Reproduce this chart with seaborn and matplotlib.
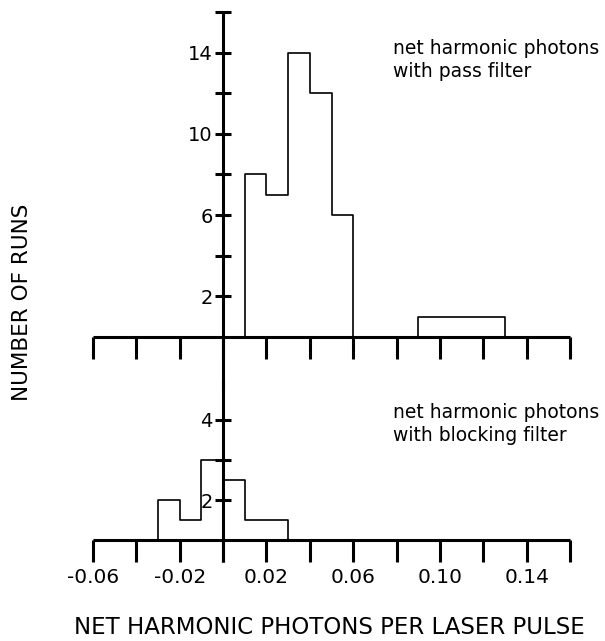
# coding: utf-8

# Net harmonic photons histogram (two panels)

import numpy as np
import seaborn as sns
import matplotlib
matplotlib.use("Agg")
import matplotlib.pyplot as plt


# Data
# bin edges and counts, pass filter (top panel)
passEdges = [0.00, 0.01, 0.02, 0.03, 0.04, 0.05, 0.06, 0.07,
             0.08, 0.09, 0.10, 0.11, 0.12, 0.13, 0.14]
passCounts = [0, 8, 7, 14, 12, 6, 0, 0, 0, 1, 1, 1, 1, 0]

# bin edges and counts, blocking filter (bottom panel)
blockEdges = [-0.04, -0.03, -0.02, -0.01, 0.00, 0.01, 0.02, 0.03, 0.04]
blockCounts = [0, 2, 1, 4, 3, 1, 1, 0]

# ticks
xTicks = [-0.06, -0.04, -0.02, 0.00, 0.02, 0.04, 0.06, 0.08, 0.10, 0.12, 0.14, 0.16]
xTickLabels = ['-0.06', '', '-0.02', '', '0.02', '', '0.06', '', '0.10', '', '0.14', '']
topYTicks = [2, 4, 6, 8, 10, 12, 14, 16]
topYLabels = ['2', '', '6', '', '10', '', '14', '']
botYTicks = [2, 4, 6]
botYLabels = ['2', '', '4']

xLabel = 'NET HARMONIC PHOTONS PER LASER PULSE'
yLabel = 'NUMBER OF RUNS'
passText = 'net harmonic photons\nwith pass filter'
blockText = 'net harmonic photons\nwith blocking filter'


# Style
sns.set_style('white')
plt.rcParams['font.family'] = ['DejaVu Sans']
plt.rcParams['text.color'] = 'black'
plt.rcParams['xtick.color'] = 'black'
plt.rcParams['ytick.color'] = 'black'
axisWidth = 2.2
histWidth = 1.2
tickFont = 14


def centers(edges):
    e = np.array(edges)
    return (e[:-1] + e[1:]) / 2


def styleAxis(ax):
    ax.spines['left'].set_position(('data', 0))
    ax.spines['bottom'].set_position(('data', 0))
    ax.spines['top'].set_visible(False)
    ax.spines['right'].set_visible(False)
    for s in ['left', 'bottom']:
        ax.spines[s].set_linewidth(axisWidth)
        ax.spines[s].set_color('black')
        ax.spines[s].set_capstyle('butt')
    ax.set_xlim(-0.06, 0.16)
    ax.set_xticks(xTicks)
    ax.tick_params(axis='x', bottom=True, direction='out', length=16, width=axisWidth,
                   color='black', labelcolor='black', labelsize=14.5, pad=4)
    ax.tick_params(axis='y', left=True, direction='inout', length=11, width=axisWidth,
                   color='black', labelcolor='black', labelsize=tickFont, pad=2)
    ax.set_xlabel('')
    ax.set_ylabel('')
    ax.grid(False)
    ax.patch.set_alpha(0)


fig = plt.figure(figsize=(6.05, 6.41), dpi=100)
axTop = fig.add_axes([93 / 605, 1 - 390 / 641, 477 / 605, 378 / 641])
axBot = fig.add_axes([93 / 605, 1 - 562 / 641, 477 / 605, 182 / 641])

# Top panel
sns.histplot(x=centers(passEdges), weights=passCounts, bins=passEdges,
             element='step', fill=False, color='black', linewidth=histWidth, ax=axTop)
styleAxis(axTop)
axTop.set_ylim(-53 / 20.3, 16)
axTop.set_yticks(topYTicks)
axTop.set_yticklabels(topYLabels)
axTop.set_xticklabels([''] * len(xTicks))

# Bottom panel
sns.histplot(x=centers(blockEdges), weights=blockCounts, bins=blockEdges,
             element='step', fill=False, color='black', linewidth=histWidth, ax=axBot)
styleAxis(axBot)
axBot.set_ylim(-22 / 20.0, 160 / 20.0)
axBot.set_yticks(botYTicks)
axBot.set_yticklabels(botYLabels)
axBot.set_xticklabels(xTickLabels)

# Texts
fig.text(393 / 605, 1 - 60 / 641, passText, ha='left', va='center',
         fontsize=13.5, linespacing=1.3)
fig.text(393 / 605, 1 - 424 / 641, blockText, ha='left', va='center',
         fontsize=13.5, linespacing=1.3)
fig.text(329 / 605, 1 - 628 / 641, xLabel, ha='center', va='center', fontsize=16.5)
fig.text(22 / 605, 1 - 302 / 641, yLabel, ha='center', va='center',
         fontsize=15.5, rotation=90)

fig.savefig('out.png', dpi=100)
